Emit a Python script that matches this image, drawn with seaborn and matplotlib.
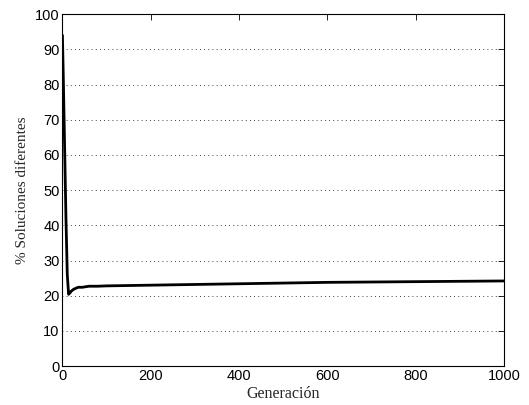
import pandas as pd
import matplotlib.pyplot as plt
import seaborn as sns

sns.set_theme(style="white", context="paper")
plt.rcParams["font.family"] = "Liberation Sans"

generacion = [0, 2, 5, 8, 11, 14, 17, 20, 25, 30, 36, 45, 60, 80, 100, 150, 200,
              300, 400, 500, 600, 700, 800, 900, 1000]
porcentaje = [94, 82, 62, 42, 26, 20.4, 20.8, 21.3, 21.8, 22.1, 22.4, 22.4, 22.7,
              22.7, 22.8, 22.9, 23.0, 23.2, 23.4, 23.6, 23.8, 23.9, 24.0, 24.1, 24.2]

df = pd.DataFrame({"gen": generacion, "pct": porcentaje})

fig = plt.figure(figsize=(5.29, 4.05), dpi=100)
ax = fig.add_axes([0.118, 0.096, 0.835, 0.869])

sns.lineplot(data=df, x="gen", y="pct", color="black", linewidth=2.0, ax=ax)

ax.set_xlim(0, 1000)
ax.set_ylim(0, 100)
ax.set_xticks(range(0, 1001, 200))
ax.set_yticks(range(0, 101, 10))
ax.yaxis.grid(True, linestyle=(0, (1, 4)), color="black", linewidth=0.6)
ax.xaxis.grid(False)
ax.tick_params(direction="in", top=True, right=True, length=4, width=0.6,
               labelsize=10.5, colors="black", pad=2)
for s in ax.spines.values():
    s.set_color("black")
    s.set_linewidth(0.8)

ax.set_xlabel("Generación", family="Liberation Serif", fontsize=11.5, labelpad=2)
ax.set_ylabel("% Soluciones diferentes", family="Liberation Serif", fontsize=11, labelpad=4)

plt.savefig("out.png", dpi=100)
